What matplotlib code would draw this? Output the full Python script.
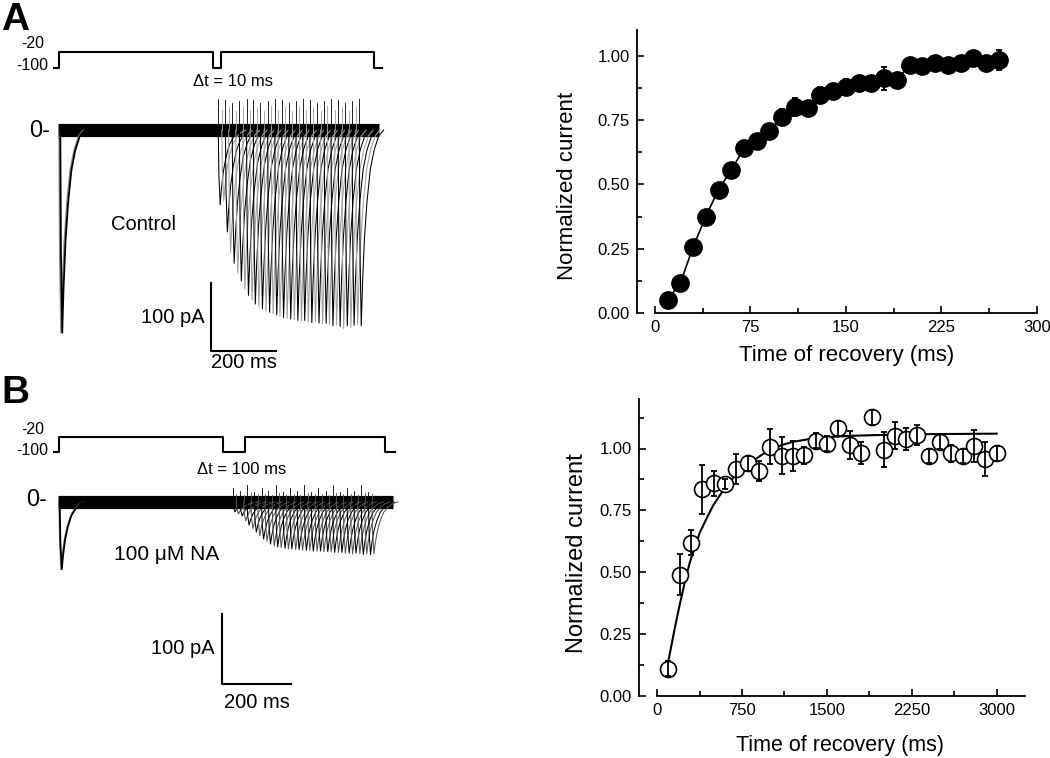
import numpy as np
import matplotlib.pyplot as plt
from matplotlib.ticker import MultipleLocator, FormatStrFormatter

plt.rcParams['font.family'] = ['Liberation Sans', 'DejaVu Sans']

# ---- recovery data, panel A (control) ----
rec_a_ms = [10, 20, 30, 40, 50, 60, 70, 80, 90, 100, 110, 120, 130, 140,
            150, 160, 170, 180, 190, 200, 210, 220, 230, 240, 250, 260, 270]
rec_a_val = [0.052, 0.116, 0.256, 0.375, 0.48, 0.556, 0.64, 0.667, 0.709,
             0.761, 0.802, 0.796, 0.849, 0.862, 0.880, 0.893, 0.895, 0.912,
             0.906, 0.965, 0.961, 0.972, 0.964, 0.972, 0.991, 0.970, 0.983]
rec_a_err = [0.01, 0.015, 0.015, 0.015, 0.015, 0.015, 0.015, 0.015, 0.02,
             0.03, 0.035, 0.02, 0.03, 0.02, 0.03, 0.02, 0.02, 0.045,
             0.02, 0.02, 0.025, 0.02, 0.025, 0.02, 0.015, 0.02, 0.04]

# ---- recovery data, panel B (100 uM NA) ----
rec_b_ms = [100, 200, 300, 400, 500, 600, 700, 800, 900, 1000, 1100, 1200,
            1300, 1400, 1500, 1600, 1700, 1800, 1900, 2000, 2100, 2200, 2300,
            2400, 2500, 2600, 2700, 2800, 2900, 3000]
rec_b_val = [0.11, 0.49, 0.62, 0.835, 0.86, 0.855, 0.916, 0.94, 0.91, 1.008,
             0.97, 0.97, 0.973, 1.031, 1.02, 1.081, 1.014, 0.981, 1.126,
             0.995, 1.051, 1.038, 1.055, 0.97, 1.027, 0.981, 0.97, 1.011,
             0.957, 0.981]
rec_b_err = [0.03, 0.083, 0.05, 0.1, 0.05, 0.02, 0.06, 0.03, 0.04, 0.07,
             0.075, 0.06, 0.035, 0.03, 0.03, 0.03, 0.055, 0.045, 0.03, 0.07,
             0.055, 0.045, 0.04, 0.03, 0.03, 0.035, 0.03, 0.065, 0.07, 0.03]
# fitted curve
fit_b_ms = [97, 150, 200, 250, 289, 340, 377, 440, 495, 560, 613, 680, 731,
            800, 878, 950, 1025, 1110, 1202, 1330, 1468, 1700, 1910, 2400, 3000]
fit_b_val = [0.135, 0.26, 0.37, 0.47, 0.54, 0.61, 0.66, 0.72, 0.77, 0.815,
             0.85, 0.885, 0.91, 0.935, 0.96, 0.982, 1.0, 1.015, 1.027, 1.037,
             1.045, 1.051, 1.054, 1.058, 1.06]

# ---- current traces ----
# shape of a transient: time after onset (ms) and fraction of the peak
tmpl_ms = np.array([0, 2, 6, 10, 16, 24, 34, 46, 60, 75])
tmpl_frac = np.array([0, 0.6, 1.0, 0.78, 0.55, 0.36, 0.2, 0.1, 0.03, 0])

first_peak_a = 298
sweep_a_ms = [490, 501, 512, 522, 533, 544, 555, 566, 577, 588, 598, 609, 620,
              631, 642, 653, 664, 674, 685, 696, 707, 718, 729, 740, 750, 761,
              772, 783, 794, 805, 816, 826, 837, 848, 859, 870, 881, 892, 902,
              913, 924]
sweep_a_pa = [110, 104, 150, 180, 196, 210, 222, 234, 243, 250, 256, 260, 263,
              266, 268, 271, 272, 274, 276, 277, 278, 279, 280, 281, 280, 282,
              283, 282, 284, 285, 284, 286, 288, 287, 289, 292, 288, 290, 287,
              286, 288]
artifact_a_pa = [46, 30, 44, 34, 40, 28, 42, 36]
end_a_ms = 985

first_peak_b = 96
sweep_b_ms = [504, 514, 525, 535, 545, 556, 566, 576, 587, 597, 607, 618, 628,
              638, 649, 659, 669, 680, 690, 700, 711, 721, 731, 742, 752, 762,
              773, 783, 793, 804, 814, 824, 835, 845, 855, 866, 876, 886, 897,
              907]
sweep_b_pa = [14, 17, 20, 27, 33, 38, 43, 48, 53, 56, 60, 63, 64, 65, 66, 67,
              67, 68, 68, 69, 69, 69, 70, 70, 70, 71, 71, 71, 72, 72, 72, 73,
              73, 74, 73, 74, 75, 74, 75, 74]
artifact_b_pa = [20, 12, 16, 10, 24, 13, 15, 11]
end_b_ms = 968

# voltage protocols (ms, mV)
prot_a_ms = [-15, 0, 0, 474, 474, 498, 498, 969, 969, 994]
prot_b_ms = [-14, 0, 0, 475, 475, 539, 539, 945, 945, 974]
prot_mv = [-100, -100, -20, -20, -100, -100, -20, -20, -100, -100]

fig = plt.figure(figsize=(10.5, 7.58), dpi=100)


def ftext(x, y, s, **kw):
    fig.text(x / 1050, 1 - y / 758, s, **kw)


def trace_panel(rect, xlim, ylim, first_peak, first_shift, sweeps, depths,
                artifacts, end_ms, prot_ms, v_lo, v_hi, bar_x, bar_y, colors):
    ax = fig.add_axes(rect)
    ax.set_xlim(*xlim)
    ax.set_ylim(*ylim)
    ax.axis('off')
    # voltage step protocol
    volts = [v_lo + (v + 100) / 80 * (v_hi - v_lo) for v in prot_mv]
    ax.plot(prot_ms, volts, color='black', lw=1.5)
    # noisy baseline shown as a thick band
    ax.plot([-3, end_ms], [0, 0], color='black', lw=9.5, solid_capstyle='butt')
    ax.plot(tmpl_ms, -first_peak * tmpl_frac, color='#888888', lw=1.0)
    ax.plot(tmpl_ms + first_shift, -first_peak * tmpl_frac, color='black', lw=1.3)
    for i, (t0, d) in enumerate(zip(sweeps, depths)):
        col = colors[i % 2]
        ax.plot(t0 + tmpl_ms, -d * tmpl_frac, color=col, lw=0.75)
        h = artifacts[i % len(artifacts)]
        ax.plot([t0, t0], [0, h], color=col, lw=0.6)
    # scale bar 100 pA / 200 ms
    ax.plot([bar_x, bar_x, bar_x + 200], [bar_y + 100, bar_y, bar_y],
            color='black', lw=1.5)
    return ax


trace_panel([0, 1 - 370 / 758, 420 / 1050, 370 / 758],
            (-181.5, 1110.8), (-352.9, 191.2), first_peak_a, 4,
            sweep_a_ms, sweep_a_pa, artifact_a_pa, end_a_ms, prot_a_ms,
            91.2, 114.7, 467.7, -325, ('black', '#a0a0a0'))
trace_panel([0, 0, 420 / 1050, 388 / 758],
            (-171, 1046.4), (-365.7, 188.6), first_peak_b, 2,
            sweep_b_ms, sweep_b_pa, artifact_b_pa, end_b_ms, prot_b_ms,
            71.4, 92.9, 472.5, -260, ('black', '#555555'))

# panel texts
ftext(1, 30, 'A', fontsize=28, fontweight='bold', va='baseline')
ftext(44, 43, '-20', fontsize=11.5, ha='right', va='center')
ftext(48, 65, '-100', fontsize=11.5, ha='right', va='center')
ftext(233, 81, '\u0394t = 10 ms', fontsize=12, ha='center', va='center')
ftext(50, 131, '0-', fontsize=17, ha='right', va='center')
ftext(143, 224, 'Control', fontsize=14.5, ha='center', va='center')
ftext(205, 317, '100 pA', fontsize=14.5, ha='right', va='center')
ftext(244, 363, '200 ms', fontsize=14.5, ha='center', va='center')

ftext(1, 403, 'B', fontsize=28, fontweight='bold', va='baseline')
ftext(44, 429, '-20', fontsize=11.5, ha='right', va='center')
ftext(48, 450, '-100', fontsize=11.5, ha='right', va='center')
ftext(242, 469, '\u0394t = 100 ms', fontsize=12, ha='center', va='center')
ftext(47, 500, '0-', fontsize=17, ha='right', va='center')
ftext(167, 555, '100 \u03bcM NA', fontsize=15, ha='center', va='center')
ftext(215, 649, '100 pA', fontsize=14.5, ha='right', va='center')
ftext(257, 703, '200 ms', fontsize=14.5, ha='center', va='center')


def style_axis(ax, xmax_spine, xmajor, ymajor, xlab, ylab):
    for s in ['top', 'right']:
        ax.spines[s].set_visible(False)
    for s in ['left', 'bottom']:
        ax.spines[s].set_linewidth(1.3)
    ax.spines['bottom'].set_bounds(0, xmax_spine)
    ax.xaxis.set_major_locator(MultipleLocator(xmajor))
    ax.xaxis.set_minor_locator(MultipleLocator(xmajor / 2))
    ax.yaxis.set_major_locator(MultipleLocator(ymajor))
    ax.yaxis.set_minor_locator(MultipleLocator(ymajor / 2))
    ax.yaxis.set_major_formatter(FormatStrFormatter('%.2f'))
    ax.tick_params(which='both', direction='in', width=1.2, labelsize=12)
    ax.tick_params(which='major', length=5)
    ax.tick_params(which='minor', length=3.5)
    ax.tick_params(axis='x', pad=5)
    ax.tick_params(axis='y', pad=5)
    ax.set_xlabel('Time of recovery (ms)', fontsize=xlab[0])
    ax.set_ylabel('Normalized current', fontsize=ylab[0])
    ax.xaxis.set_label_coords(xlab[1], xlab[2])
    ax.yaxis.set_label_coords(ylab[1], ylab[2])


# right top: control
ax1 = fig.add_axes([637 / 1050, 1 - 313 / 758, 400 / 1050, 283 / 758])
ax1.errorbar(rec_a_ms, rec_a_val, yerr=rec_a_err, fmt='o-', color='black',
             ms=12.5, lw=1.2, elinewidth=1.3, capsize=2.5, capthick=1.3)
ax1.set_xlim(-14, 300)
ax1.set_ylim(0, 1.1)
style_axis(ax1, 300, 75, 0.25, (16, 0.525, -0.113), (16, -0.147, 0.45))
ax1.set_xticks([0, 75, 150, 225, 300])

# right bottom: 100 uM NA
ax2 = fig.add_axes([639 / 1050, 1 - 696 / 758, 386 / 1050, 297 / 758])
ax2.plot(fit_b_ms, fit_b_val, color='black', lw=1.5, zorder=1.5)
ax2.plot(rec_b_ms, rec_b_val, 'o', mfc='white', mec='black', ms=11.5,
         mew=1.2, zorder=2)
ax2.errorbar(rec_b_ms, rec_b_val, yerr=rec_b_err, fmt='none', ecolor='black',
             elinewidth=1.3, capsize=2.5, capthick=1.3, zorder=3)
ax2.set_xlim(-160, 3250)
ax2.set_ylim(0, 1.2)
style_axis(ax2, 3250, 750, 0.25, (15.5, 0.521, -0.131), (17, -0.133, 0.48))
ax2.set_xticks([0, 750, 1500, 2250, 3000])
ax2.set_yticks([0, 0.25, 0.5, 0.75, 1.0])

fig.savefig('out.png', dpi=100)
